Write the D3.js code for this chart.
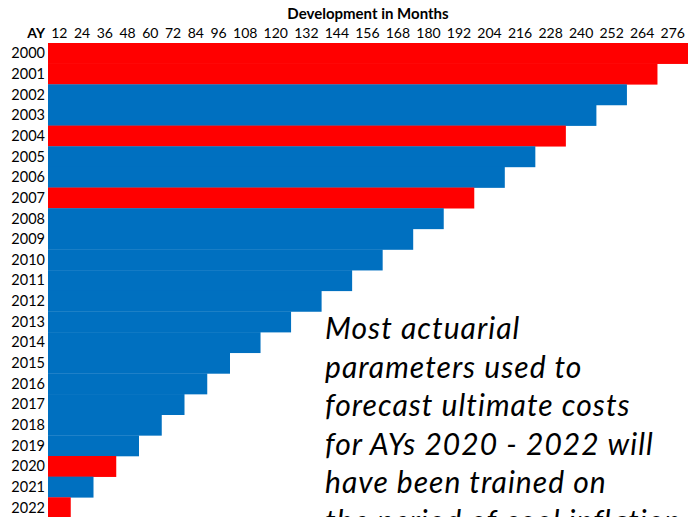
<!DOCTYPE html>
<html>
<head>
<meta charset="utf-8">
<script src="https://cdn.jsdelivr.net/npm/d3@7"></script>
<style>
  html, body { margin: 0; padding: 0; background: #fff; overflow: hidden; }
  svg { display: block; }
</style>
</head>
<body>
<svg id="chart" width="692" height="517"></svg>
<script>
// ---- data ----
const years = [2000,2001,2002,2003,2004,2005,2006,2007,2008,2009,2010,2011,2012,2013,2014,2015,2016,2017,2018,2019,2020,2021,2022];
const devMonths = [276,264,252,240,228,216,204,192,180,168,156,144,132,120,108,96,84,72,60,48,36,24,12];
const highlighted = [2000,2001,2004,2007,2020,2022];
const tickLabels = [12,24,36,48,60,72,84,96,108,120,132,144,156,168,180,192,204,216,228,240,252,264,276];
const headerTitle = "Development in Months";
const rowHeader = "AY";
const noteLines = ["Most actuarial","parameters used to","forecast ultimate costs","for AYs 2020 - 2022 will","have been trained on","the period of cool inflation"];

// ---- layout ----
const svg = d3.select("#chart");
const font = "Lato, 'Noto Sans', sans-serif";
const RED = "#FF0000", BLUE = "#0070C0";

// Spreadsheet columns: 2-digit columns narrower than 3-digit ones -> polylinear scale
const x = d3.scaleLinear().domain([0, 96, 276]).range([48, 230, 688]);
const y = d3.scaleBand().domain(years).range([43, 43 + 20.65 * years.length]).padding(0);

// bars
svg.append("g").selectAll("rect")
  .data(years.map((yr, i) => ({ yr, m: devMonths[i] })))
  .join("rect")
  .attr("x", x(0))
  .attr("y", d => y(d.yr))
  .attr("width", d => x(d.m) - x(0))
  .attr("height", y.bandwidth() + 0.3)
  .attr("fill", d => highlighted.includes(d.yr) ? RED : BLUE);

// top axis labels (centered in each 12-month column)
svg.append("g").selectAll("text")
  .data(tickLabels)
  .join("text")
  .attr("x", d => x(d - 6))
  .attr("y", 38)
  .attr("text-anchor", "middle")
  .attr("font-family", font)
  .attr("font-size", 14)
  .attr("fill", "#000")
  .text(d => d);

// row labels
svg.append("g").selectAll("text")
  .data(years)
  .join("text")
  .attr("x", 45)
  .attr("y", d => y(d) + y.bandwidth() / 2 + 5)
  .attr("text-anchor", "end")
  .attr("font-family", font)
  .attr("font-size", 14.5)
  .attr("fill", "#000")
  .text(d => d);

svg.append("text")
  .attr("x", 45).attr("y", 38)
  .attr("text-anchor", "end")
  .attr("font-family", font)
  .attr("font-weight", "bold")
  .attr("font-size", 14)
  .text(rowHeader);

svg.append("text")
  .attr("x", 368).attr("y", 19)
  .attr("text-anchor", "middle")
  .attr("font-family", font)
  .attr("font-weight", "bold")
  .attr("font-size", 15)
  .text(headerTitle);

// annotation
svg.append("g").selectAll("text")
  .data(noteLines)
  .join("text")
  .attr("x", 325)
  .attr("y", (d, i) => 339 + i * 38.6)
  .attr("font-family", font)
  .attr("font-style", "italic")
  .attr("font-size", 30)
  .attr("letter-spacing", 1.05)
  .attr("fill", "#000")
  .text(d => d);
</script>
</body>
</html>
